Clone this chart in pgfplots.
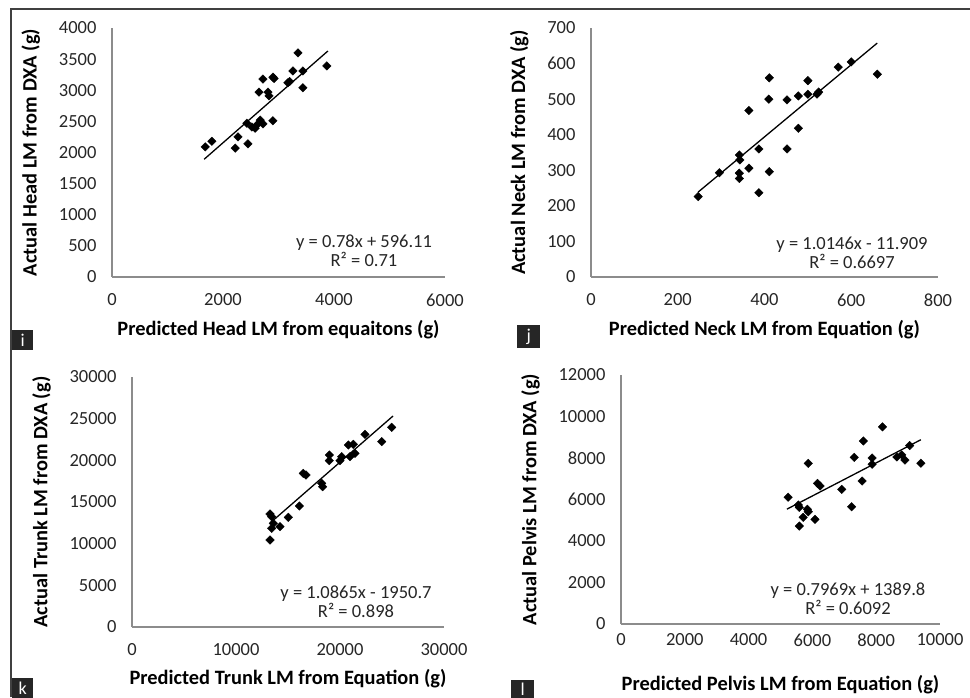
\documentclass[border=0pt]{standalone}
\usepackage{pgfplots}
\pgfplotsset{compat=1.18}
\usepackage{fontspec}
\setmainfont{Carlito}
\begin{document}
\begin{tikzpicture}
\useasboundingbox (0pt,0pt) rectangle (970pt,697pt);
\draw[line width=1.5pt, black!75] (11pt,0pt) -- (11pt,688pt) -- (970pt,688pt);
\pgfplotsset{
 panel/.style={
  scale only axis, anchor=south west,
  axis x line=bottom, axis y line=left,
  axis line style={-, draw=black!45, line width=1.3pt},
  major tick length=0pt,
  tick label style={font=\fontsize{18.5}{20}\selectfont, text=black!85},
  label style={font=\bfseries\fontsize{20.4}{24}\selectfont},
  /pgf/number format/1000 sep={},
  /pgf/number format/assume math mode=true,
  scaled ticks=false,
  xticklabel style={yshift=-13pt},
  yticklabel style={xshift=-12pt},
  xlabel shift=7pt, ylabel shift=12pt,
  clip=false,
 },
 pts/.style={only marks, mark=square*, mark options={rotate=45, fill=black, draw=black}, mark size=3pt},
 fitl/.style={no marks, black, line width=1.3pt},
}
% Panel i
\begin{axis}[panel, at={(112pt,420pt)}, width=333pt, height=249pt,
  xmin=0, xmax=6000, ymin=0, ymax=4000,
  xtick={0,2000,4000,6000}, ytick={0,500,...,4000},
  xlabel={Predicted Head LM from equaitons (g)},
  ylabel={Actual Head LM from DXA (g)}]
\addplot[pts] table {
1680 2090
1800 2180
2220 2070
2270 2250
2450 2140
2430 2470
2520 2410
2580 2390
2610 2440
2670 2520
2720 2460
2900 2510
2650 2970
2810 2970
2830 2910
2720 3180
2900 3210
2920 3190
3170 3120
3200 3140
3260 3310
3440 3310
3440 3040
3350 3600
3870 3390
};
\addplot[fitl] coordinates {(1660,1890.9) (3890,3630.3)};
\end{axis}
% Panel j
\begin{axis}[panel, at={(591pt,420pt)}, width=347pt, height=249pt,
  xmin=0, xmax=800, ymin=0, ymax=700,
  xtick={0,200,...,800}, ytick={0,100,...,700},
  xlabel={Predicted Neck LM from Equation (g)},
  ylabel={Actual Neck LM from DXA (g)}]
\addplot[pts] table {
247 226
296 293
342 343
343 329
342 292
342 277
364 306
364 468
387 360
387 237
411 296
410 500
411 560
452 498
452 360
478 509
478 418
500 514
500 552
521 514
525 520
570 590
600 605
660 570
};
\addplot[fitl] coordinates {(247,238.7) (660,657.7)};
\end{axis}
% Panel k
\begin{axis}[panel, at={(132pt,70pt)}, width=312pt, height=250pt,
  xmin=0, xmax=30000, ymin=0, ymax=30000,
  xtick={0,10000,20000,30000}, ytick={0,5000,...,30000},
  xlabel={Predicted Trunk LM from Equation (g)},
  ylabel={Actual Trunk LM from DXA (g)}]
\addplot[pts] table {
24970 23960
24010 22240
22400 23120
21280 21920
20800 21840
21440 20840
20960 20440
20160 20440
20000 19960
18970 20640
18970 19960
18240 17240
18330 16840
16470 18440
16730 18240
16090 14520
15030 13160
14230 12040
13270 13560
13430 13240
13590 12440
13430 11840
13270 10440
};
\addplot[fitl] coordinates {(13300,12499.8) (25100,25320.5)};
\end{axis}
% Panel l
\begin{axis}[panel, at={(621pt,73pt)}, width=319pt, height=249pt,
  xmin=0, xmax=10000, ymin=0, ymax=12000,
  xtick={0,2000,...,10000}, ytick={0,2000,...,12000},
  xticklabel style={yshift=7pt},
  xlabel shift=22pt,
  xlabel={Predicted Pelvis LM from Equation (g)},
  ylabel={Actual Pelvis LM from DXA (g)}]
\addplot[pts] table {
5240 6110
5560 5735
5590 5620
5870 7740
6160 6780
6240 6650
5840 5530
5870 5410
5710 5140
6080 5040
5590 4720
6920 6490
7230 5650
7310 8030
7600 8820
7560 6890
7870 8000
7870 7700
8200 9500
8650 8050
8900 7900
9050 8600
9400 7750
8800 8150
};
\addplot[fitl] coordinates {(5200,5533.7) (9400,8880.7)};
\end{axis}
% equations
\tikzset{eq/.style={align=center, font=\fontsize{18.5}{18.5}\selectfont, text=black!85}}
\node[eq] at (364pt,446pt) {y = 0.78x + 596.11\\R² = 0.71};
\node[eq] at (852pt,444pt) {y = 1.0146x - 11.909\\R² = 0.6697};
\node[eq] at (356pt,95pt) {y = 1.0865x - 1950.7\\R² = 0.898};
\node[eq] at (848pt,98pt) {y = 0.7969x + 1389.8\\R² = 0.6092};
% panel letters
\tikzset{lett/.style={fill=black!85, text=white, anchor=north west, inner sep=0pt, font=\fontsize{18}{18}\selectfont}}
\node[lett, minimum width=21pt, minimum height=20pt] at (12pt,367pt) {i};
\node[lett, minimum width=23pt, minimum height=23pt] at (517pt,372pt) {j};
\node[lett, minimum width=21pt, minimum height=20pt] at (12pt,19pt) {k};
\node[lett, minimum width=23pt, minimum height=18pt] at (511pt,17pt) {l};
\end{tikzpicture}
\end{document}
